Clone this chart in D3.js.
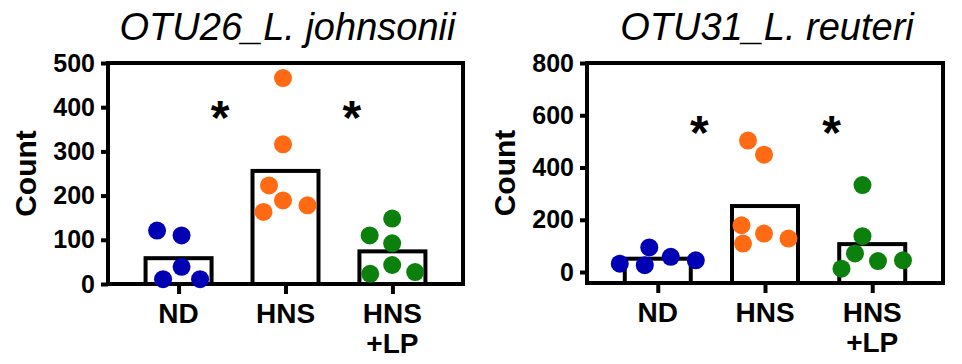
<!DOCTYPE html>
<html>
<head>
<meta charset="utf-8">
<script src="https://cdn.jsdelivr.net/npm/d3@7"></script>
<style>
  body { margin: 0; background: #fff; }
  svg { display: block; }
</style>
</head>
<body>
<div class="otu-viz"></div>
<script>
// groups on the x axis, in plot order
let groups = ["ND", "HNS", "HNS+LP"];
let groupLabels = [["ND"], ["HNS"], ["HNS", "+LP"]];
let groupColors = ["#0000b4", "#ff6a13", "#0c800c"];

// OTU26 counts per mouse, one list per group
let otu26Title = "OTU26_L. johnsonii";
let otu26Values = [
  [110, 121, 39, 11, 11],
  [466, 316, 189, 163, 178, 223],
  [148, 92, 110, 43, 23, 27]
];
let otu26Domain = [0, 500];
let otu26Ticks = [0, 100, 200, 300, 400, 500];
let otu26Stars = [390, 390];

// OTU31 counts per mouse
let otu31Title = "OTU31_L. reuteri";
let otu31Values = [
  [94, 26, 58, 32, 45],
  [449, 503, 147, 109, 179, 128],
  [333, 137, 71, 42, 13, 45]
];
let otu31Domain = [-42, 800];
let otu31Ticks = [0, 200, 400, 600, 800];
let otu31Stars = [555, 555];

// star comparisons: ND vs HNS, HNS vs HNS+LP
let starPairs = [["ND", "HNS"], ["HNS", "HNS+LP"]];

let W = 962, H = 364;
let font = "'Liberation Sans', Arial, sans-serif";
let lineW = 4;
let dotR = 9;
let starShift = [-12, 13];

let viz = d3.select(".otu-viz")
            .append("svg")
            .attr("width", W)
            .attr("height", H)
            .style("background-color", "white")
;

function drawPanel(cfg){
  let xScale = d3.scalePoint().domain(groups).range([cfg.left, cfg.right]).padding(0.66);
  let yScale = d3.scaleLinear().domain(cfg.domain).range([cfg.bottom, cfg.top]);
  let g = viz.append("g").attr("class", "panel");

  // title
  g.append("text")
    .text(cfg.title)
    .attr("x", (cfg.left + cfg.right)/2 + 2)
    .attr("y", 40)
    .attr("text-anchor", "middle")
    .style("font-family", font)
    .style("font-style", "italic")
    .style("font-size", "38px")
    .attr("fill", "black")
  ;

  // bars = group means, drawn from the bottom of the frame
  g.selectAll(".bar").data(cfg.values).enter()
    .append("rect")
    .attr("class", "bar")
    .attr("x", (d, i) => xScale(groups[i]) - 33)
    .attr("width", 66)
    .attr("y", d => yScale(d3.mean(d)))
    .attr("height", d => cfg.bottom - yScale(d3.mean(d)))
    .attr("fill", "white")
    .attr("stroke", "black")
    .attr("stroke-width", lineW)
  ;

  // frame + axes
  g.append("rect")
    .attr("x", cfg.left)
    .attr("y", cfg.top)
    .attr("width", cfg.right - cfg.left)
    .attr("height", cfg.bottom - cfg.top)
    .attr("fill", "none")
    .attr("stroke", "black")
    .attr("stroke-width", lineW)
  ;

  let yAxis = d3.axisLeft(yScale).tickValues(cfg.ticks).tickSize(7).tickSizeOuter(0).tickPadding(6);
  let yAxisGroup = g.append("g")
                    .attr("transform", "translate(" + cfg.left + ",0)")
                    .call(yAxis)
  ;
  yAxisGroup.select(".domain").remove();
  yAxisGroup.selectAll("line").attr("stroke-width", lineW);
  yAxisGroup.selectAll("text")
            .style("font-family", font)
            .style("font-weight", "bold")
            .style("font-size", "25px")
            .attr("fill", "black")
  ;

  let xAxis = d3.axisBottom(xScale).tickSize(10).tickSizeOuter(0).tickFormat("");
  let xAxisGroup = g.append("g")
                    .attr("transform", "translate(0," + cfg.bottom + ")")
                    .call(xAxis)
  ;
  xAxisGroup.select(".domain").remove();
  xAxisGroup.selectAll("line").attr("stroke-width", lineW);

  // x labels, some on two lines
  groupLabels.forEach(function(lines, i){
    let t = g.append("text")
              .attr("text-anchor", "middle")
              .style("font-family", font)
              .style("font-weight", "bold")
              .style("font-size", "28px")
              .attr("fill", "black")
    ;
    lines.forEach(function(line, k){
      t.append("tspan")
        .attr("x", xScale(groups[i]))
        .attr("y", cfg.bottom + 39 + k*30)
        .text(line)
      ;
    });
  });

  // y label
  g.append("text")
    .text("Count")
    .attr("transform", "translate(" + (cfg.left - 72) + "," + ((cfg.top + cfg.bottom)/2) + ") rotate(-90)")
    .attr("text-anchor", "middle")
    .style("font-family", font)
    .style("font-weight", "bold")
    .style("font-size", "30px")
    .attr("fill", "black")
  ;

  // dots, spread sideways so they don't overlap (wider gap across than up),
  // then each group's spread is centred on its tick
  let gapX = 25, gapY = dotR*2;
  let dots = [];
  cfg.values.forEach(function(vals, i){
    let placed = [];
    vals.forEach(function(v){
      let y = yScale(v);
      let off = 0;
      for (let k = 0; k < 400; k++){
        let cands = k == 0 ? [0] : [-k*0.5, k*0.5];
        let found = cands.find(function(c){
          return placed.every(function(p){
            let dx = (p.off - c)/gapX, dy = (p.y - y)/gapY;
            return dx*dx + dy*dy >= 1;
          });
        });
        if (found !== undefined){ off = found; break; }
      }
      placed.push({off: off, y: y});
    });
    let ext = d3.extent(placed, p => p.off);
    let mid = (ext[0] + ext[1])/2;
    placed.forEach(function(p){
      dots.push({x: xScale(groups[i]) + p.off - mid, y: p.y, color: groupColors[i]});
    });
  });

  g.selectAll(".dot").data(dots).enter()
    .append("circle")
    .attr("class", "dot")
    .attr("cx", d => d.x)
    .attr("cy", d => d.y)
    .attr("r", dotR)
    .attr("fill", d => d.color)
  ;

  // significance stars
  g.selectAll(".star").data(starPairs).enter()
    .append("text")
    .attr("class", "star")
    .text("*")
    .attr("x", (d, i) => (xScale(d[0]) + xScale(d[1]))/2 + starShift[i])
    .attr("y", (d, i) => yScale(cfg.stars[i]) + 22)
    .attr("text-anchor", "middle")
    .style("font-family", font)
    .style("font-weight", "bold")
    .style("font-size", "48px")
    .attr("fill", "black")
  ;
}

drawPanel({title: otu26Title, values: otu26Values, domain: otu26Domain, ticks: otu26Ticks, stars: otu26Stars,
           left: 108, right: 463, top: 63, bottom: 284});
drawPanel({title: otu31Title, values: otu31Values, domain: otu31Domain, ticks: otu31Ticks, stars: otu31Stars,
           left: 587, right: 943, top: 63, bottom: 283});
</script>
</body>
</html>
